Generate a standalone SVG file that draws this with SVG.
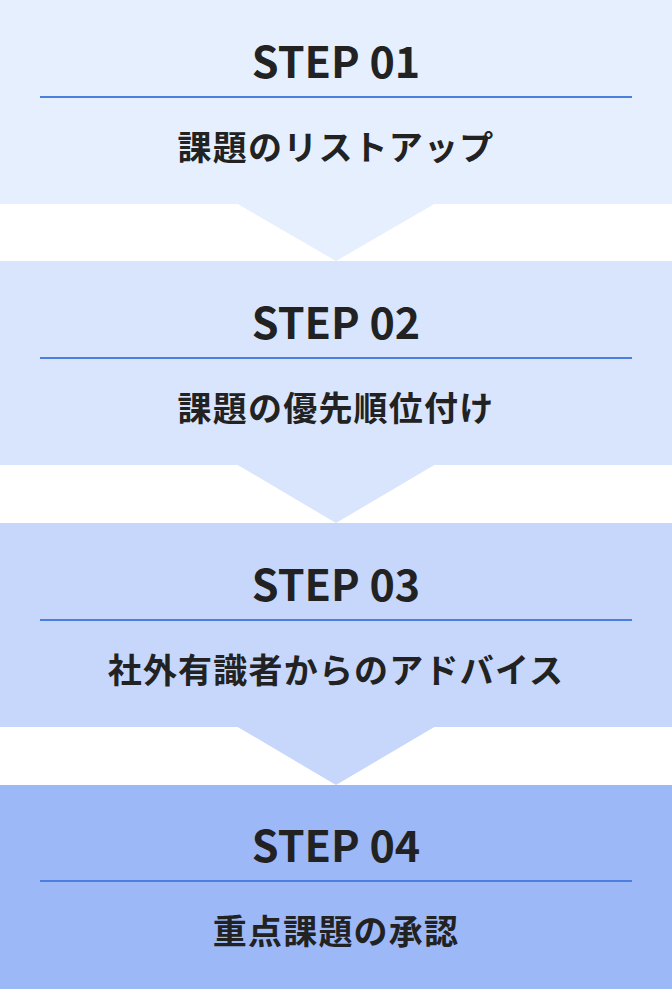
<svg xmlns="http://www.w3.org/2000/svg" width="672" height="989" viewBox="0 0 672 989">
<style>
.step{font-family:"Noto Sans CJK JP","Noto Sans",sans-serif;font-weight:700;font-size:43px;fill:#222;text-anchor:middle}
.title{font-family:"Noto Sans CJK JP",sans-serif;font-weight:700;font-size:34px;fill:#222;text-anchor:middle;letter-spacing:1.2px}
.rule{stroke:#4a7fe0;stroke-width:2}
</style>
<rect width="672" height="989" fill="#ffffff"/>
<g id="connectors">
<polygon points="236,203 436,203 336,261" fill="#e5effd"/>
<polygon points="236,464 436,464 336,523" fill="#d9e5fd"/>
<polygon points="236,726 436,726 336,785" fill="#c6d7fb"/>
</g>
<g id="step1">
<rect x="0" y="0" width="672" height="204" fill="#e5effd"/>
<text class="step" x="336" y="78">STEP 01</text>
<line class="rule" x1="40" y1="97" x2="632" y2="97"/>
<text class="title" x="336" y="160">課題のリストアップ</text>
</g>
<g id="step2">
<rect x="0" y="261" width="672" height="204" fill="#d9e5fd"/>
<text class="step" x="336" y="339">STEP 02</text>
<line class="rule" x1="40" y1="358" x2="632" y2="358"/>
<text class="title" x="336" y="421">課題の優先順位付け</text>
</g>
<g id="step3">
<rect x="0" y="523" width="672" height="204" fill="#c6d7fb"/>
<text class="step" x="336" y="601">STEP 03</text>
<line class="rule" x1="40" y1="620" x2="632" y2="620"/>
<text class="title" x="336" y="683">社外有識者からのアドバイス</text>
</g>
<g id="step4">
<rect x="0" y="785" width="672" height="204" fill="#9db8f7"/>
<text class="step" x="336" y="862">STEP 04</text>
<line class="rule" x1="40" y1="881" x2="632" y2="881"/>
<text class="title" x="336" y="944">重点課題の承認</text>
</g>
</svg>
